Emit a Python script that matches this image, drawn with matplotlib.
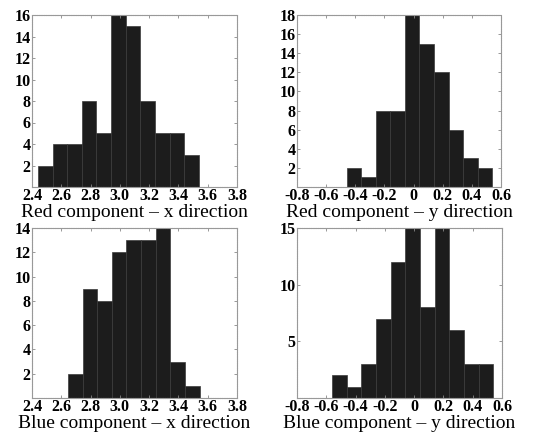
import numpy as np
import matplotlib
matplotlib.use("Agg")
import matplotlib.pyplot as plt

plt.rcParams['font.family'] = ['Liberation Serif', 'DejaVu Serif']
plt.rcParams['font.weight'] = 'bold'
plt.rcParams['axes.unicode_minus'] = False

# histogram counts (bin width 0.1)
red_x_start = 2.44
red_x_counts = [2, 4, 4, 8, 5, 16, 15, 8, 5, 5, 3]
red_y_start = -0.46
red_y_counts = [2, 1, 8, 8, 18, 15, 12, 6, 3, 2]
blue_x_start = 2.645
blue_x_counts = [2, 9, 8, 12, 13, 13, 14, 3, 1]
blue_y_start = -0.56
blue_y_counts = [2, 1, 3, 7, 12, 15, 8, 15, 6, 3, 3]
bin_width = 0.1

x_ticks = [2.4, 2.6, 2.8, 3.0, 3.2, 3.4, 3.6, 3.8]
x_labels = ['2.4', '2.6', '2.8', '3.0', '3.2', '3.4', '3.6', '3.8']
y_dir_ticks = [-0.8, -0.6, -0.4, -0.2, 0, 0.2, 0.4, 0.6]
y_dir_labels = ['-0.8', '-0.6', '-0.4', '-0.2', '0', '0.2', '0.4', '0.6']

titles = ['Red component \u2013 x direction', 'Red component \u2013 y direction',
          'Blue component \u2013 x direction', 'Blue component \u2013 y direction']

W, H = 544, 433
fig = plt.figure(figsize=(W / 100, H / 100), dpi=100)

# axes boxes in pixels: left, top, right, bottom
boxes = [(32, 15, 237, 187), (297, 15, 501, 187),
         (32, 228, 237, 398), (297, 228, 502, 398)]

panels = [
    (red_x_start, red_x_counts, (2.4, 3.8), x_ticks, x_labels, 16, list(range(2, 17, 2))),
    (red_y_start, red_y_counts, (-0.8, 0.6), y_dir_ticks, y_dir_labels, 18, list(range(2, 19, 2))),
    (blue_x_start, blue_x_counts, (2.4, 3.8), x_ticks, x_labels, 14, list(range(2, 15, 2))),
    (blue_y_start, blue_y_counts, (-0.8, 0.6), y_dir_ticks, y_dir_labels, 15, [5, 10, 15]),
]

for (l, t, r, b), (start, counts, xlim, xt, xl, ymax, yt), title in zip(boxes, panels, titles):
    ax = fig.add_axes([l / W, 1 - b / H, (r - l) / W, (b - t) / H])
    edges = start + bin_width * np.arange(len(counts) + 1)
    centers = (edges[:-1] + edges[1:]) / 2
    ax.hist(centers, bins=edges, weights=counts, color='#1c1c1c',
            edgecolor='#3a3a3a', linewidth=0.5)
    ax.set_xlim(*xlim)
    ax.set_ylim(0, ymax)
    ax.set_xticks(xt)
    ax.set_xticklabels(xl)
    ax.set_yticks(yt)
    ax.tick_params(direction='in', length=2, width=0.6, color='#888888',
                   labelsize=11.5, pad=1, right=True, top=True)
    for s in ax.spines.values():
        s.set_color('#999999')
        s.set_linewidth(0.8)
        s.set_linestyle((0, (1, 0.6)))
    ax.set_xlabel(title, fontsize=14, fontweight='normal', labelpad=0)

fig.savefig('out.png', dpi=100)
